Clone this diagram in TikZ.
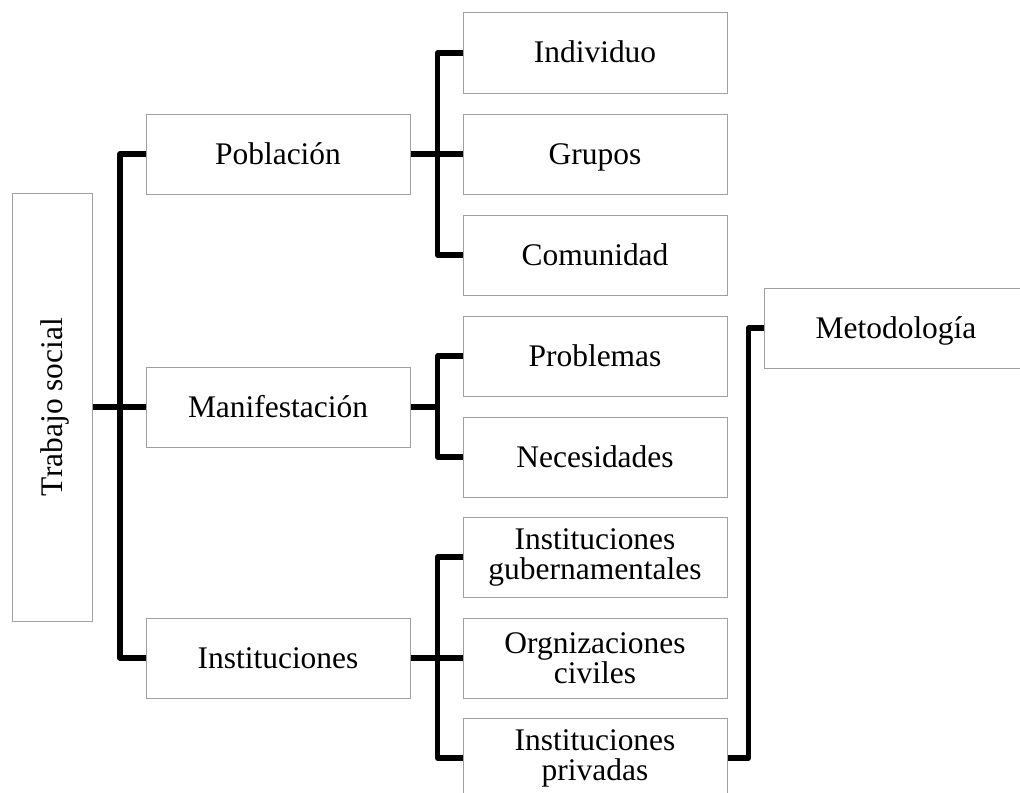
\documentclass[tikz,border=0pt]{standalone}
\usepackage{fontspec}
\setmainfont{Liberation Serif}
\definecolor{boxgray}{RGB}{160,160,160}
\tikzset{
    caja/.style={draw=boxgray, line width=0.75pt, fill=white, inner sep=0pt,
        minimum width=198pt, minimum height=60pt, align=center,
        font=\fontsize{23.6}{22.5}\selectfont},
    una/.style={caja, text height=17pt, text depth=2pt},
    enlace/.style={line width=4pt, line join=round}
}
\begin{document}
\begin{tikzpicture}[x=0.75pt,y=-0.75pt]
    \useasboundingbox (0,0) rectangle (1020,792);
    \node[una, rotate=90, minimum width=321pt] (ts) at (52.5,407) {Trabajo social};
    \node[una] (pob) at (278,154) {Población};
    \node[una] (man) at (278,407) {Manifestación};
    \node[una] (ins) at (278,658) {Instituciones};
    \node[una] (ind) at (595,53) {Individuo};
    \node[una] (gru) at (595,154) {Grupos};
    \node[una] (com) at (595,255) {Comunidad};
    \node[una] (pro) at (595,356) {Problemas};
    \node[una] (nec) at (595,457) {Necesidades};
    \node[caja] (gub) at (595,557) {Instituciones\\gubernamentales};
    \node[caja] (civ) at (595,658) {Orgnizaciones\\civiles};
    \node[caja] (pri) at (595,758) {Instituciones\\privadas};
    \node[una] (met) at (896,328) {Metodología};
    \draw[enlace] (ts.south) -- ++(27,0) coordinate (b0);
    \draw[enlace] (pob.west) -| (b0) |- (ins.west);
    \draw[enlace] (b0) -- (man.west);
    \draw[enlace] (pob.east) -- ++(27,0) coordinate (b1);
    \draw[enlace] (ind.west) -| (b1) |- (com.west);
    \draw[enlace] (b1) -- (gru.west);
    \draw[enlace] (man.east) -- ++(27,0) coordinate (b2);
    \draw[enlace] (pro.west) -| (b2) |- (nec.west);
    \draw[enlace] (ins.east) -- ++(27,0) coordinate (b3);
    \draw[enlace] (gub.west) -| (b3) |- (pri.west);
    \draw[enlace] (b3) -- (civ.west);
    \draw[enlace] (pri.east) -| ++(21,0) |- (met.west);
\end{tikzpicture}
\end{document}
